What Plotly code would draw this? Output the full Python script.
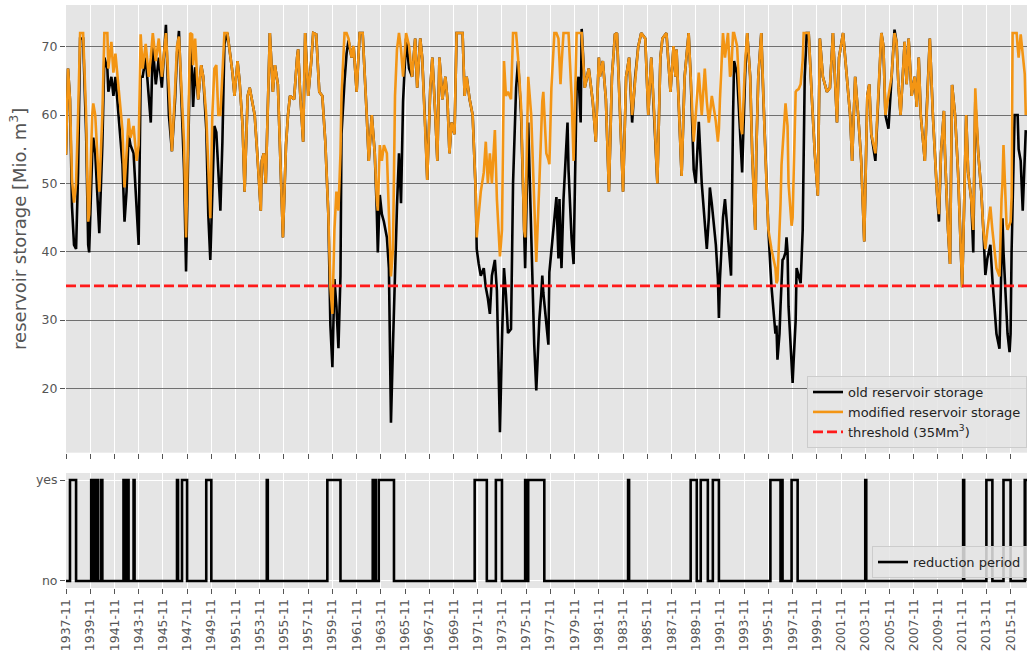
import pandas as pd
import plotly.graph_objects as go

# ---------------- data ----------------
start_month = "1937-11-01"           # month index 0
x_end = "2017-03-10"                 # right end of the x axis

# month index (months since 1937-11) of each vertex
month_idx = [
    0, 2, 4, 6, 8, 10, 12, 14, 17, 20, 22, 23, 26, 27, 29, 31, 33, 36, 38, 41,
    42, 45, 47, 49, 52, 54, 56, 58, 60, 62, 64, 67, 70, 72, 74, 76, 79, 82, 84, 86,
    89, 92, 95, 99, 102, 105, 108, 110, 112, 115, 117, 119, 121, 123, 125, 126, 128, 131, 134, 136,
    139, 141, 143, 145, 147, 149, 151, 153, 155, 157, 160, 162, 165, 167, 170, 172, 175, 177, 180, 182,
    184, 187, 190, 193, 194, 196, 198, 200, 202, 205, 207, 210, 212, 215, 218, 220, 222, 226, 229, 230,
    232, 235, 237, 240, 243, 245, 248, 251, 254, 257, 260, 262, 264, 266, 268, 270, 272, 273, 276, 278,
    280, 283, 285, 288, 291, 294, 298, 300, 303, 306, 308, 309, 311, 313, 315, 318, 320, 321, 322, 324,
    326, 328, 330, 332, 334, 337, 340, 343, 346, 348, 351, 353, 356, 358, 361, 363, 366, 368, 370, 373,
    376, 378, 380, 382, 385, 387, 390, 393, 395, 397, 400, 403, 406, 407, 409, 411, 414, 416, 418, 420,
    422, 425, 427, 430, 432, 434, 436, 438, 441, 443, 446, 448, 451, 454, 455, 458, 461, 464, 466, 469,
    471, 472, 473, 476, 478, 479, 481, 484, 486, 488, 489, 490, 491, 493, 496, 497, 498, 501, 503, 506,
    508, 510, 511, 514, 518, 522, 525, 528, 529, 532, 535, 538, 541, 544, 546, 549, 552, 555, 558, 561,
    564, 567, 570, 574, 577, 580, 583, 586, 589, 591, 595, 599, 602, 604, 605, 608, 610, 613, 617, 619,
    621, 622, 624, 627, 630, 633, 635, 637, 638, 640, 643, 644, 646, 647, 648, 650, 651, 653, 656, 658,
    659, 661, 662, 665, 668, 669, 670, 673, 675, 678, 680, 683, 684, 686, 689, 691, 693, 696, 698, 699,
    703, 704, 705, 707, 708, 709, 710, 711, 713, 714, 715, 716, 719, 720, 721, 722, 723, 724, 726, 728,
    730, 731, 732, 734, 736, 739, 742, 745, 747, 750, 754, 757, 760, 764, 766, 770, 774, 777, 779, 782,
    785, 788, 791, 794, 796, 798, 802, 805, 808, 810, 812, 815, 818, 821, 823, 825, 827, 831, 833, 835,
    838, 841, 843, 845, 847, 851, 853, 856, 859, 861, 863, 865, 867, 870, 871, 874, 876, 878, 881, 884,
    886, 888, 889, 892, 894, 897, 899, 901, 904, 907, 909, 911, 913, 916, 918, 919, 920, 922, 925, 927,
    928, 929, 931, 932, 933, 935, 936, 937, 938, 940, 942, 943, 944, 946, 948, 950, 951,
]

modified_storage = [
    54.2, 66.8, 62.3, 50.5, 47.2, 50.0, 60.0, 72.0, 72.0, 60.0, 44.4, 45.5, 60.0, 61.7, 60.0, 53.3, 48.8, 60.0, 72.0, 72.0,
    66.8, 70.7, 66.2, 69.0, 64.5, 60.6, 57.8, 49.4, 54.4, 59.5, 56.7, 58.4, 53.3, 55.6, 71.8, 66.8, 70.4, 65.6, 68.4, 72.0,
    67.9, 71.2, 65.6, 72.0, 64.0, 54.7, 63.4, 70.1, 71.5, 61.2, 56.0, 42.1, 60.0, 72.0, 71.8, 67.3, 71.2, 62.3, 67.3, 65.6,
    60.0, 51.0, 44.9, 60.0, 66.8, 67.3, 60.0, 60.0, 65.6, 72.0, 72.0, 69.6, 66.2, 62.8, 67.9, 65.0, 58.4, 48.8, 62.8, 64.0,
    62.3, 60.0, 53.3, 46.0, 53.3, 54.4, 50.0, 62.8, 72.0, 63.4, 67.3, 64.5, 54.4, 42.1, 55.6, 60.0, 62.8, 62.3, 68.4, 69.6,
    63.4, 56.1, 72.0, 62.8, 67.9, 72.0, 71.8, 63.4, 62.8, 56.1, 45.5, 34.8, 30.9, 43.2, 48.8, 46.0, 54.4, 62.8, 72.0, 72.0,
    71.2, 68.4, 70.1, 63.4, 72.0, 72.0, 60.0, 53.3, 60.0, 54.4, 47.7, 46.0, 55.6, 53.3, 55.6, 54.4, 45.5, 40.0, 36.4, 40.4,
    62.8, 69.6, 72.0, 69.6, 65.6, 72.0, 70.1, 65.6, 71.2, 64.0, 71.2, 68.4, 58.4, 50.5, 64.0, 68.4, 60.0, 53.3, 68.4, 62.3,
    65.6, 62.3, 54.4, 58.9, 57.2, 72.0, 72.0, 72.0, 62.8, 65.6, 62.3, 60.0, 48.8, 42.1, 45.5, 48.8, 51.6, 56.1, 50.0, 54.4,
    50.0, 57.8, 47.7, 39.3, 43.2, 67.9, 62.8, 63.4, 62.3, 72.0, 72.0, 68.4, 61.2, 43.2, 42.1, 65.6, 60.0, 48.8, 38.5, 50.0,
    60.0, 62.0, 63.4, 54.4, 53.5, 52.8, 64.0, 72.0, 72.0, 71.2, 68.0, 64.5, 67.3, 72.0, 72.0, 72.0, 72.0, 62.8, 53.3, 72.0,
    72.0, 72.0, 72.0, 64.0, 66.8, 62.0, 56.1, 68.4, 65.6, 67.9, 62.3, 48.8, 65.6, 71.8, 72.0, 60.0, 48.8, 65.6, 68.4, 60.0,
    65.6, 70.0, 72.0, 71.2, 60.0, 68.4, 60.0, 50.0, 68.4, 71.2, 72.0, 63.4, 70.1, 65.6, 69.6, 60.0, 51.1, 65.6, 72.0, 65.6,
    60.0, 56.1, 60.0, 66.2, 60.0, 66.8, 62.0, 58.9, 60.0, 62.8, 60.0, 59.0, 56.1, 58.0, 62.3, 68.0, 72.0, 68.4, 72.0, 65.6,
    66.0, 72.0, 72.0, 70.1, 60.0, 58.0, 57.2, 67.9, 72.0, 65.6, 54.4, 43.2, 54.4, 65.6, 72.0, 62.8, 54.4, 43.2, 41.0, 40.4,
    37.6, 35.4, 35.8, 42.1, 47.0, 52.7, 55.0, 58.4, 61.7, 60.0, 58.4, 50.0, 43.8, 45.0, 52.7, 58.0, 63.4, 63.6, 63.8, 64.5,
    68.0, 72.0, 72.0, 72.0, 72.0, 62.8, 54.4, 48.2, 71.2, 65.6, 63.4, 64.0, 72.0, 58.9, 68.4, 72.0, 65.1, 60.0, 53.3, 65.6,
    60.0, 53.3, 41.5, 62.8, 64.5, 57.2, 54.4, 62.8, 72.0, 70.1, 60.0, 62.8, 65.6, 72.0, 70.7, 64.0, 60.0, 70.7, 64.5, 71.2,
    62.8, 65.6, 61.2, 68.4, 60.0, 53.3, 61.2, 71.2, 60.0, 53.3, 48.8, 45.5, 54.4, 60.6, 54.4, 43.2, 38.2, 64.4, 60.0, 51.6,
    43.2, 34.8, 40.4, 60.0, 51.6, 47.7, 43.2, 63.9, 54.4, 48.8, 43.2, 40.4, 43.2, 46.6, 43.2, 41.0, 40.4, 37.6, 36.4, 47.7,
    50.0, 55.6, 45.5, 44.0, 43.2, 44.0, 44.4, 48.0, 72.0, 72.0, 72.0, 70.0, 68.4, 71.8, 68.4, 66.0, 60.0,
]

old_storage = [
    54.2, 66.8, 62.3, 46.6, 41.0, 40.4, 51.6, 71.2, 71.2, 57.2, 41.0, 39.9, 54.4, 56.7, 54.4, 48.8, 42.7, 55.6, 68.4, 66.8,
    63.4, 65.6, 62.8, 65.6, 60.0, 55.6, 52.8, 44.4, 48.8, 57.2, 55.6, 54.4, 45.5, 41.0, 65.6, 65.6, 68.4, 62.8, 58.9, 70.1,
    64.5, 68.4, 64.0, 73.2, 60.0, 54.7, 62.0, 69.0, 72.3, 60.0, 52.0, 37.1, 55.0, 70.0, 66.0, 61.2, 67.0, 62.3, 67.3, 65.6,
    58.0, 45.5, 38.8, 48.8, 58.4, 57.5, 51.0, 46.0, 56.1, 70.4, 72.0, 69.6, 66.2, 62.8, 67.9, 65.0, 58.4, 48.8, 62.8, 64.0,
    62.3, 60.0, 53.3, 46.0, 53.3, 54.4, 50.0, 62.8, 72.0, 63.4, 67.3, 64.5, 54.4, 42.1, 55.6, 60.0, 62.8, 62.3, 68.4, 69.6,
    63.4, 56.1, 72.0, 62.8, 67.9, 72.0, 71.8, 63.4, 62.8, 56.1, 45.5, 29.2, 23.1, 36.0, 32.0, 25.9, 36.5, 57.2, 65.0, 69.0,
    70.9, 68.4, 70.1, 63.4, 72.0, 72.0, 60.0, 53.3, 60.0, 54.4, 46.0, 39.9, 48.3, 45.5, 44.4, 42.1, 37.6, 26.0, 15.0, 26.4,
    38.2, 46.6, 54.4, 47.1, 62.0, 71.2, 66.8, 65.6, 71.2, 64.0, 71.2, 68.4, 58.4, 50.5, 64.0, 68.4, 60.0, 53.3, 68.4, 62.3,
    65.6, 62.3, 54.4, 58.9, 57.2, 72.0, 72.0, 72.0, 62.8, 65.6, 62.3, 60.0, 48.8, 40.4, 38.2, 36.5, 37.6, 34.8, 33.2, 30.9,
    36.5, 38.8, 34.3, 13.6, 27.0, 37.6, 33.7, 28.1, 28.7, 50.0, 64.0, 67.9, 60.0, 40.4, 37.6, 58.9, 43.2, 26.4, 19.7, 30.0,
    34.0, 36.5, 34.0, 30.0, 26.4, 37.0, 40.0, 45.5, 48.0, 39.0, 47.7, 42.0, 37.6, 47.7, 55.0, 58.9, 52.0, 42.0, 38.2, 64.4,
    65.6, 58.9, 72.6, 64.0, 66.8, 62.0, 56.1, 68.4, 65.6, 67.9, 62.3, 48.8, 65.6, 71.8, 72.0, 60.0, 48.8, 65.6, 68.4, 58.9,
    65.6, 70.0, 72.0, 71.2, 60.0, 68.4, 60.0, 50.0, 68.4, 71.2, 72.0, 63.4, 70.1, 65.6, 69.6, 60.0, 51.1, 65.6, 72.0, 65.6,
    57.8, 52.0, 50.0, 59.0, 50.0, 44.0, 40.4, 45.0, 49.4, 47.0, 42.0, 41.0, 36.0, 30.3, 36.0, 43.2, 45.0, 47.7, 42.0, 38.0,
    36.5, 60.0, 67.9, 66.0, 58.0, 55.6, 51.6, 66.0, 72.0, 65.6, 54.4, 43.2, 54.4, 65.6, 72.0, 62.8, 54.4, 43.2, 37.6, 35.0,
    28.0, 29.2, 24.2, 28.0, 32.0, 36.0, 38.8, 39.0, 39.9, 42.1, 40.0, 32.0, 24.0, 20.8, 24.0, 28.1, 30.0, 37.6, 36.5, 35.4,
    43.2, 60.0, 65.6, 72.0, 72.0, 62.8, 54.4, 48.2, 71.2, 65.6, 63.4, 64.0, 72.0, 58.9, 68.4, 72.0, 65.1, 60.0, 53.3, 65.6,
    60.0, 53.3, 41.5, 62.8, 64.5, 57.2, 53.3, 62.8, 72.0, 70.1, 60.0, 58.0, 65.6, 72.5, 70.7, 64.0, 60.0, 70.7, 64.5, 71.2,
    62.8, 65.6, 61.2, 68.4, 60.0, 53.3, 61.2, 71.2, 60.0, 53.3, 48.8, 44.4, 54.4, 60.6, 54.4, 43.2, 38.2, 64.4, 60.0, 51.6,
    41.5, 34.8, 40.4, 60.0, 51.6, 47.7, 39.9, 62.0, 54.4, 48.8, 43.2, 36.6, 39.0, 41.0, 36.0, 33.7, 31.0, 28.0, 25.8, 38.0,
    44.9, 40.0, 34.0, 32.0, 28.0, 25.3, 28.0, 40.0, 45.5, 60.0, 60.0, 60.0, 55.0, 53.3, 46.0, 54.4, 57.8,
]

threshold_value = 35.0

# reduction periods: (first month index, month index after the period)
reduction_periods = [
    (4, 10), (25, 26), (28, 29), (31, 32), (35, 36), (57, 58), (59, 60), (61, 62), (67, 68),
    (110, 111), (115, 120), (139, 144), (199, 200), (259, 272), (304, 305), (306, 307), (310, 325),
    (405, 417), (426, 432), (455, 456), (458, 474), (557, 558), (619, 625), (629, 636), (641, 647),
    (698, 708), (709, 710), (719, 725), (792, 793), (889, 890), (912, 918), (929, 936), (950, 953),
]
reduction_labels = ["no", "yes"]

# ---------------- build ----------------
base = pd.Timestamp(start_month)
to_date = lambda m: base + pd.DateOffset(months=int(m))
dates = [to_date(m) for m in month_idx]

red_x, red_y = [to_date(0)], [0]
for s, e in reduction_periods:
    red_x += [to_date(s), to_date(e)]
    red_y += [1, 0]
red_x.append(to_date(953))
red_y.append(0)

GRAY = "#555555"
FONT = "DejaVu Sans"

fig = go.Figure()
fig.add_trace(go.Scatter(x=dates, y=old_storage, mode="lines", name="old reservoir storage",
                         line=dict(color="black", width=2.6), xaxis="x", yaxis="y", legend="legend"))
fig.add_trace(go.Scatter(x=dates, y=modified_storage, mode="lines", name="modified reservoir storage",
                         line=dict(color="#F39514", width=2.6), xaxis="x", yaxis="y", legend="legend"))
fig.add_trace(go.Scatter(x=[start_month, x_end], y=[threshold_value, threshold_value], mode="lines",
                         name="threshold (35Mm<sup>3</sup>)",
                         line=dict(color="#FF1A1A", width=2.6, dash="10px,4px"),
                         xaxis="x", yaxis="y", legend="legend"))
fig.add_trace(go.Scatter(x=red_x, y=red_y, mode="lines", line_shape="hv", name="reduction period",
                         line=dict(color="black", width=2.6), xaxis="x2", yaxis="y2", legend="legend2"))

common_x = dict(type="date", range=[start_month, x_end], tick0=start_month, dtick="M24",
                ticks="outside", ticklen=5, tickcolor=GRAY, gridcolor="white", gridwidth=1,
                showline=False, zeroline=False, automargin=False)

fig.update_layout(
    width=1027, height=658,
    margin=dict(l=66, r=0, t=5, b=70, autoexpand=False),
    paper_bgcolor="white", plot_bgcolor="#E5E5E5",
    font=dict(family=FONT, size=12.5, color=GRAY),
    showlegend=True,
    xaxis=dict(**common_x, domain=[0, 1], anchor="y", showticklabels=False, matches="x2"),
    xaxis2=dict(**common_x, domain=[0, 1], anchor="y2", tickformat="%Y-%m", tickangle=-90,
                tickfont=dict(family=FONT, size=12.5, color=GRAY)),
    yaxis=dict(domain=[0.2321, 1], range=[10.6, 76.1], tick0=0, dtick=10, ticks="outside",
               ticklen=5, tickcolor=GRAY, gridcolor="#707070", gridwidth=1, zeroline=False,
               automargin=False, tickfont=dict(family=FONT, size=12.5, color=GRAY),
               title=dict(text="reservoir storage [Mio. m<sup>3</sup>]", standoff=10,
                          font=dict(family=FONT, size=18, color=GRAY))),
    yaxis2=dict(domain=[0, 0.1973], range=[-0.07, 1.07], tickvals=[0, 1], ticktext=reduction_labels,
                ticks="outside", ticklen=5, tickcolor=GRAY, gridcolor="white", zeroline=False,
                automargin=False, tickfont=dict(family=FONT, size=12.5, color=GRAY)),
    legend=dict(x=1, xanchor="right", y=0.24, yanchor="bottom", bgcolor="rgba(229,229,229,0.85)",
                bordercolor="#CCCCCC", borderwidth=1, font=dict(family=FONT, size=13, color="#222222"),
                tracegroupgap=0),
    legend2=dict(x=1, xanchor="right", y=0.017, yanchor="bottom", bgcolor="rgba(229,229,229,0.85)",
                 bordercolor="#CCCCCC", borderwidth=1, font=dict(family=FONT, size=13, color="#222222")),
)

fig.write_html("out.html", config={"displayModeBar": False},
               post_script="document.body.style.margin='0';document.body.style.padding='0';"
                           "document.body.style.overflow='hidden';")
